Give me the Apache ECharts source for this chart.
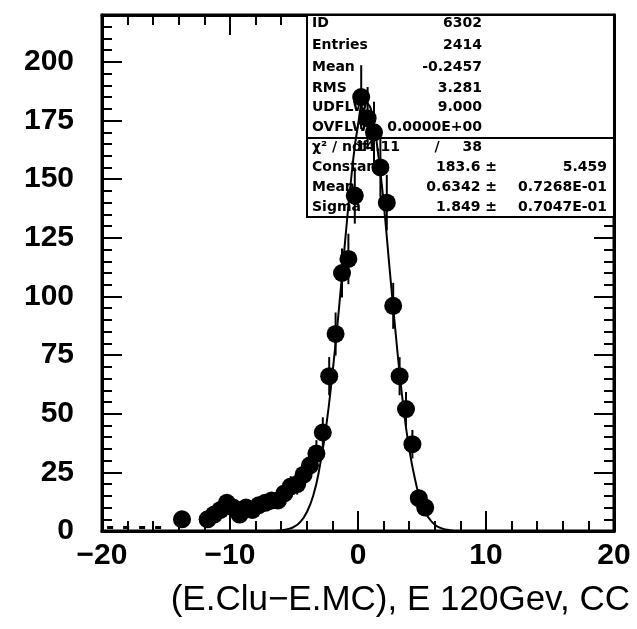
<!DOCTYPE html>
<html>
<head>
<meta charset="utf-8">
<script src="https://cdn.jsdelivr.net/npm/echarts@6/dist/echarts.min.js"></script>
<style>
  html, body { margin: 0; padding: 0; background: #fff; }
  #chart { width: 637px; height: 629px; }
</style>
</head>
<body>
<div id="chart"></div>
<script>
// histogram bins (width 0.5), centre and count
var binX = [-13.75, -11.75, -11.25, -10.75, -10.25, -9.75, -9.25, -8.75, -8.25, -7.75,
  -7.25, -6.75, -6.25, -5.75, -5.25, -4.75, -4.25, -3.75, -3.25, -2.75,
  -2.25, -1.75, -1.25, -0.75, -0.25, 0.25, 0.75, 1.25, 1.75, 2.25,
  2.75, 3.25, 3.75, 4.25, 4.75, 5.25];
var counts = [5, 5, 7, 9, 12, 10, 7, 10, 9, 11,
  12, 13, 13, 16, 19, 20, 24, 28, 33, 42,
  66, 84, 110, 116, 143, 185, 176, 170, 155, 140,
  96, 66, 52, 37, 14, 10];

// gaussian fit curve as drawn on the plot
var fitX = [-6.5, -6, -5.5, -5, -4.5, -4, -3.5, -3, -2.5, -2, -1.5, -1, -0.5, 0,
  0.5, 1, 1.5, 2, 2.5, 3, 3.5, 4, 4.5, 5, 5.5, 6, 6.5, 7, 7.5];
var fitY = [0, 0.3, 0.8, 1.8, 3.9, 8, 15, 27, 44, 67, 94, 124, 152, 173,
  183, 180, 164, 140, 110, 81, 55, 35, 21, 11, 5.8, 2.7, 1.2, 0.5, 0];

// dashed stub along the bottom left
var stubX = [-19.6, -14.6];
var stubY = [1.5, 1.5];

// statistics box
var statRows = [["ID", "6302"], ["Entries", "2414"], ["Mean", "-0.2457"],
  ["RMS", "3.281"], ["UDFLW", "9.000"], ["OVFLW", "0.0000E+00"]];
var chiRow = ["χ² / ndf", "14.11", "/", "38"];
var fitRows = [["Constant", "183.6 ±", "5.459"], ["Mean", "0.6342 ±", "0.7268E-01"],
  ["Sigma", "1.849 ±", "0.7047E-01"]];

var xTitle = "(E.Clu\u2212E.MC), E 120Gev, CC";

var font = "Liberation Sans, Arial, sans-serif";
var boxFont = "bold 14px DejaVu Sans, sans-serif";

var points = binX.map(function (x, i) { return [x, counts[i]]; });
var fitLine = fitX.map(function (x, i) { return [x, fitY[i]]; });
var stub = stubX.map(function (x, i) { return [x, stubY[i]]; });

function boxLabel(x, y, text, align) {
  return {
    type: "text", x: x, y: y, z: 1,
    style: { text: text, font: boxFont, fill: "#000", textAlign: align || "left", textVerticalAlign: "middle" },
  };
}

// stats box texts
var boxText = [];
var rowY = [23, 45, 67, 88, 107, 127];
statRows.forEach(function (r, i) {
  boxText.push(boxLabel(312, rowY[i], r[0]));
  boxText.push(boxLabel(482, rowY[i], r[1], "right"));
});
boxText.push(boxLabel(312, 147, chiRow[0]));
boxText.push(boxLabel(400, 147, chiRow[1], "right"));
boxText.push(boxLabel(437, 147, chiRow[2], "center"));
boxText.push(boxLabel(482, 147, chiRow[3], "right"));
var fitRowY = [167, 187, 207];
fitRows.forEach(function (r, i) {
  boxText.push(boxLabel(312, fitRowY[i], r[0]));
  boxText.push(boxLabel(497, fitRowY[i], r[1], "right"));
  boxText.push(boxLabel(607, fitRowY[i], r[2], "right"));
});

var tickStyle = { color: "#000", width: 2 };

var myChart = echarts.init(document.getElementById("chart"));
myChart.setOption({
  animation: false,
  backgroundColor: "#fff",
  grid: {
    left: 102,
    right: 23,
    top: 15,
    bottom: 98,
    show: true,
    borderColor: "#000",
    borderWidth: 3,
  },
  xAxis: [
    {
      type: "value",
      min: -20,
      max: 20,
      interval: 10,
      axisLine: { onZero: false, lineStyle: { color: "#000", width: 3 } },
      axisTick: { inside: true, length: 20, lineStyle: tickStyle },
      minorTick: { show: true, splitNumber: 5, length: 10, lineStyle: tickStyle },
      splitLine: { show: false },
      axisLabel: {
        color: "#000",
        fontFamily: font,
        fontWeight: "bold",
        fontSize: 30,
        margin: 10,
        formatter: function (v) { return v < 0 ? "\u2212" + (-v) : String(v); },
      },
    },
    {
      type: "value",
      position: "top",
      min: -20,
      max: 20,
      interval: 10,
      axisLine: { onZero: false, lineStyle: { color: "#000", width: 3 } },
      axisTick: { inside: true, length: 20, lineStyle: tickStyle },
      minorTick: { show: true, splitNumber: 5, length: 10, lineStyle: tickStyle },
      splitLine: { show: false },
      axisLabel: { show: false },
    },
  ],
  yAxis: [
    {
      type: "value",
      min: 0,
      max: 220,
      interval: 25,
      axisLine: { show: true, onZero: false, lineStyle: { color: "#000", width: 3 } },
      axisTick: { show: true, inside: true, length: 20, lineStyle: tickStyle },
      minorTick: { show: true, splitNumber: 5, length: 10, lineStyle: tickStyle },
      splitLine: { show: false },
      axisLabel: {
        color: "#000",
        fontFamily: font,
        fontWeight: "bold",
        fontSize: 30,
        margin: 28,
        showMaxLabel: false,
      },
    },
    {
      type: "value",
      position: "right",
      min: 0,
      max: 220,
      interval: 25,
      axisLine: { show: true, onZero: false, lineStyle: { color: "#000", width: 3 } },
      axisTick: { show: true, inside: true, length: 20, lineStyle: tickStyle },
      minorTick: { show: true, splitNumber: 5, length: 10, lineStyle: tickStyle },
      splitLine: { show: false },
      axisLabel: { show: false },
    },
  ],
  graphic: [
    {
      type: "rect",
      shape: { x: 307, y: 15, width: 307, height: 202 },
      style: { fill: "#fff", stroke: "#000", lineWidth: 2 },
      z: 1,
    },
    {
      type: "line",
      shape: { x1: 307, y1: 138, x2: 614, y2: 138 },
      style: { stroke: "#000", lineWidth: 2 },
      z: 1,
    },
    {
      type: "text",
      right: 7,
      top: 583,
      style: { text: xTitle, font: "35px " + font, fill: "#000" },
    },
  ].concat(boxText),
  series: [
    {
      // error bars
      type: "custom",
      z: 3,
      renderItem: function (params, api) {
        var x = api.value(0), v = api.value(1), e = Math.sqrt(v);
        var p1 = api.coord([x, v - e]);
        var p2 = api.coord([x, v + e]);
        return {
          type: "line",
          shape: { x1: p1[0], y1: p1[1], x2: p2[0], y2: p2[1] },
          style: { stroke: "#000", lineWidth: 2 },
        };
      },
      data: points,
    },
    {
      type: "scatter",
      z: 4,
      symbol: "circle",
      symbolSize: 18,
      itemStyle: { color: "#000", opacity: 1 },
      data: points,
    },
    {
      type: "line",
      z: 3,
      smooth: true,
      showSymbol: false,
      lineStyle: { color: "#000", width: 2 },
      data: fitLine,
    },
    {
      type: "line",
      z: 3,
      showSymbol: false,
      lineStyle: { color: "#000", width: 3, type: [6, 10] },
      data: stub,
    },
  ],
});
</script>
</body>
</html>
